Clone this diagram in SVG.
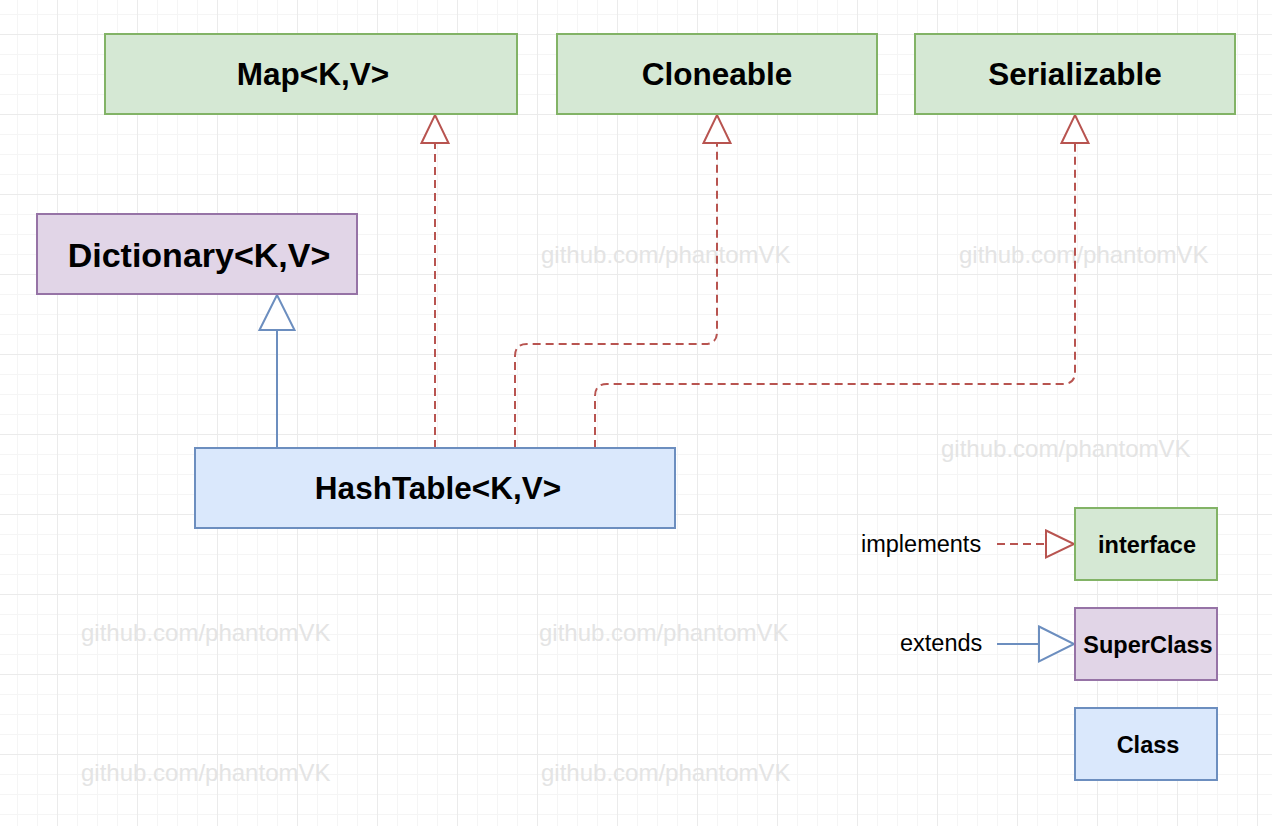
<svg xmlns="http://www.w3.org/2000/svg" width="1272" height="826" viewBox="0 0 1272 826">
  <style>
    .node-text { font-family: "Liberation Sans", Arial, Helvetica, sans-serif; font-weight: bold; fill: #000000; text-anchor: middle; }
    .label { font-family: "Liberation Sans", Arial, Helvetica, sans-serif; fill: #000000; font-size: 23.5px; }
    .wm { font-family: "Liberation Sans", Arial, Helvetica, sans-serif; fill: #e4e4e4; font-size: 24px; }
    .iface { fill: #d5e8d4; stroke: #82b366; stroke-width: 2; }
    .super { fill: #e1d5e7; stroke: #9673a6; stroke-width: 2; }
    .cls { fill: #dae8fc; stroke: #6c8ebf; stroke-width: 2; }
    .impl { fill: none; stroke: #b85450; stroke-width: 2; stroke-dasharray: 8 5; }
    .ext { fill: none; stroke: #6c8ebf; stroke-width: 2; }
  </style>
  <defs>
    <pattern id="grid" patternUnits="userSpaceOnUse" x="57" y="34" width="80" height="80">
      <rect x="0" y="0" width="80" height="80" fill="#ffffff"/>
      <rect x="20" y="0" width="1" height="80" fill="#f5f5f5"/>
      <rect x="40" y="0" width="1" height="80" fill="#f5f5f5"/>
      <rect x="60" y="0" width="1" height="80" fill="#f5f5f5"/>
      <rect x="0" y="20" width="80" height="1" fill="#f5f5f5"/>
      <rect x="0" y="40" width="80" height="1" fill="#f5f5f5"/>
      <rect x="0" y="60" width="80" height="1" fill="#f5f5f5"/>
      <rect x="0" y="0" width="1" height="80" fill="#ebebeb"/>
      <rect x="0" y="0" width="80" height="1" fill="#ebebeb"/>
    </pattern>
    <marker id="arrImpl" viewBox="0 0 28 27" refX="28" refY="13.5" markerWidth="28" markerHeight="27" markerUnits="userSpaceOnUse" orient="auto" overflow="visible">
      <path d="M0,0 L28,13.5 L0,27 Z" fill="#ffffff" stroke="#b85450" stroke-width="2" stroke-dasharray="none"/>
    </marker>
    <marker id="arrExt" viewBox="0 0 35 35" refX="35" refY="17.5" markerWidth="35" markerHeight="35" markerUnits="userSpaceOnUse" orient="auto" overflow="visible">
      <path d="M0,0 L35,17.5 L0,35 Z" fill="#ffffff" stroke="#6c8ebf" stroke-width="2" stroke-dasharray="none"/>
    </marker>
  </defs>

  <rect x="0" y="0" width="1272" height="826" fill="url(#grid)"/>

  <g id="watermarks">
    <text class="wm" x="541" y="263">github.com/phantomVK</text>
    <text class="wm" x="959" y="263">github.com/phantomVK</text>
    <text class="wm" x="941" y="457">github.com/phantomVK</text>
    <text class="wm" x="81" y="641">github.com/phantomVK</text>
    <text class="wm" x="539" y="641">github.com/phantomVK</text>
    <text class="wm" x="81" y="781">github.com/phantomVK</text>
    <text class="wm" x="541" y="781">github.com/phantomVK</text>
  </g>

  <g id="connectors">
    <path class="impl" d="M435,448 V115" marker-end="url(#arrImpl)"/>
    <path class="impl" d="M515,448 V356 Q515,344 527,344 H705 Q717,344 717,332 V115" marker-end="url(#arrImpl)"/>
    <path class="impl" d="M595,448 V396 Q595,384 607,384 H1063 Q1075,384 1075,372 V115" marker-end="url(#arrImpl)"/>
    <path class="ext" d="M277,448 V295" marker-end="url(#arrExt)"/>
    <path class="impl" d="M997,544 H1074" marker-end="url(#arrImpl)"/>
    <path class="ext" d="M997,644 H1074" marker-end="url(#arrExt)"/>
  </g>

  <g id="node-map">
    <rect class="iface" x="105" y="34" width="412" height="80"/>
    <text class="node-text" x="313" y="85" font-size="31.5">Map&lt;K,V&gt;</text>
  </g>
  <g id="node-cloneable">
    <rect class="iface" x="557" y="34" width="320" height="80"/>
    <text class="node-text" x="717" y="85" font-size="31.5">Cloneable</text>
  </g>
  <g id="node-serializable">
    <rect class="iface" x="915" y="34" width="320" height="80"/>
    <text class="node-text" x="1075" y="85" font-size="31.5">Serializable</text>
  </g>
  <g id="node-dictionary">
    <rect class="super" x="37" y="214" width="320" height="80"/>
    <text class="node-text" x="199" y="267" font-size="34">Dictionary&lt;K,V&gt;</text>
  </g>
  <g id="node-hashtable">
    <rect class="cls" x="195" y="448" width="480" height="80"/>
    <text class="node-text" x="438" y="499" font-size="31.5">HashTable&lt;K,V&gt;</text>
  </g>

  <g id="legend-implements">
    <text class="label" x="861" y="552">implements</text>
  </g>
  <g id="legend-extends">
    <text class="label" x="900" y="651">extends</text>
  </g>
  <g id="legend-interface">
    <rect class="iface" x="1075" y="508" width="142" height="72"/>
    <text class="node-text" x="1147" y="553" font-size="23.5">interface</text>
  </g>
  <g id="legend-superclass">
    <rect class="super" x="1075" y="608" width="142" height="72"/>
    <text class="node-text" x="1148" y="653" font-size="23.5">SuperClass</text>
  </g>
  <g id="legend-class">
    <rect class="cls" x="1075" y="708" width="142" height="72"/>
    <text class="node-text" x="1148" y="753" font-size="23.5">Class</text>
  </g>
</svg>
